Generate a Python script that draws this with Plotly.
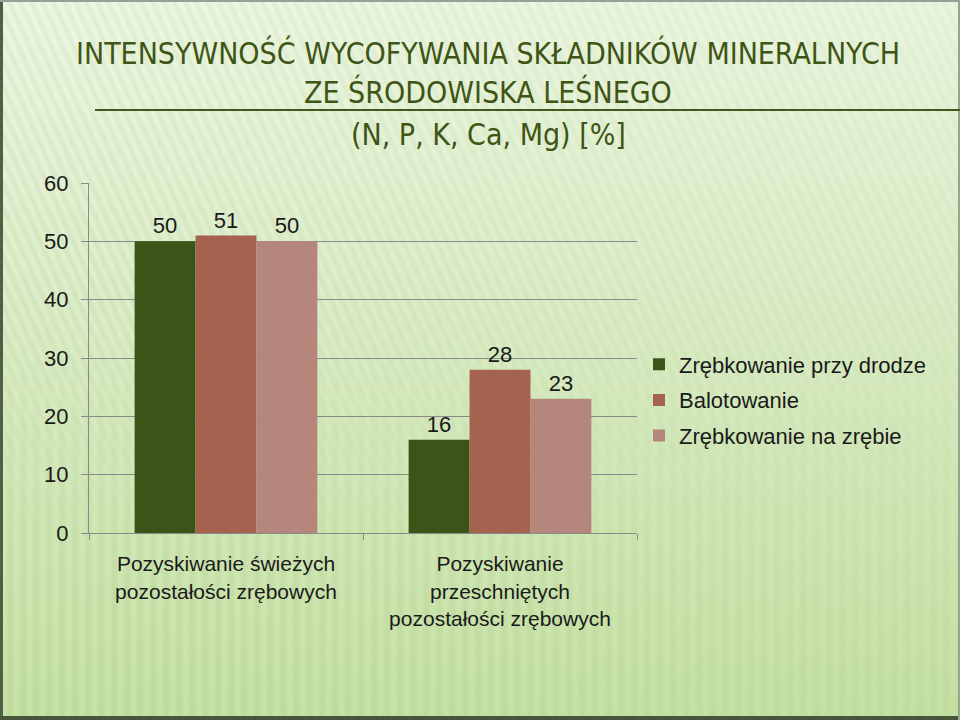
import base64, zlib, struct
import numpy as np
import plotly.graph_objects as go

categories = ["Pozyskiwanie świeżych<br>pozostałości zrębowych",
              "Pozyskiwanie<br>przeschniętych<br>pozostałości zrębowych"]
series_names = ["Zrębkowanie przy drodze", "Balotowanie", "Zrębkowanie na zrębie"]
series_values = [[50, 16], [51, 28], [50, 23]]
series_colors = ["#3B5518", "#A5624E", "#B5877C"]
y_ticks = [0, 10, 20, 30, 40, 50, 60]

W, H = 960, 720
L, R, T, B = 89, 323, 183, 187

# ---- background image (gradient + soft stripes) ----
yy, xx = np.mgrid[0:H, 0:W].astype(float)
t = yy / H
top = np.array([232, 243, 220], float)
bot = np.array([194, 222, 160], float)
base = top[None, None, :] * (1 - t[..., None]) + bot[None, None, :] * t[..., None]
diag = np.sin(2 * np.pi * (xx - 0.45 * yy) / 11.0)
vert = np.sin(2 * np.pi * xx / 13.0)
w = np.clip((yy - 300) / 250, 0, 1)
stripe = diag * (1 - w) + vert * w
amp = 5 * (1 - 0.5 * (xx / W))
img = base + (stripe * amp)[..., None]
img = np.clip(img, 0, 255).astype(np.uint8)
img[:, 0:3] = [80, 95, 70]
img[H - 4:H, :] = [70, 85, 60]
img[0:2, :] = [150, 160, 150]
img[:, W - 2:W] = [150, 165, 140]

def to_png(a):
    h, w_, _ = a.shape
    raw = b"".join(b"\x00" + a[i].tobytes() for i in range(h))
    def chunk(tag, data):
        c = struct.pack(">I", len(data)) + tag + data
        return c + struct.pack(">I", zlib.crc32(tag + data) & 0xffffffff)
    return (b"\x89PNG\r\n\x1a\n" + chunk(b"IHDR", struct.pack(">IIBBBBB", w_, h, 8, 2, 0, 0, 0))
            + chunk(b"IDAT", zlib.compress(raw, 9)) + chunk(b"IEND", b""))

src = "data:image/png;base64," + base64.b64encode(to_png(img)).decode()

pw, ph = W - L - R, H - T - B
FONT = "Liberation Sans, Arial"

fig = go.Figure()
for name, vals, col in zip(series_names, series_values, series_colors):
    fig.add_trace(go.Bar(
        x=categories, y=vals, name=name, marker=dict(color=col, line=dict(width=0)),
        text=[str(v) for v in vals], textposition="outside", cliponaxis=False,
        textfont=dict(family=FONT, size=22, color="#1a1a1a"),
        legendgroup=name,
    ))

fig.update_layout(
    width=W, height=H,
    margin=dict(l=L, r=R, t=T, b=B),
    paper_bgcolor="rgba(0,0,0,0)", plot_bgcolor="rgba(0,0,0,0)",
    barmode="group", bargap=0.333, bargroupgap=0,
    showlegend=True,
    legend=dict(x=(639 - L) / pw, y=(533 - 400) / ph, xanchor="left", yanchor="middle",
                font=dict(family=FONT, size=22, color="#1a1a1a"),
                bgcolor="rgba(0,0,0,0)", tracegroupgap=4, itemclick=False),
    font=dict(family=FONT, size=21, color="#1a1a1a"),
    images=[dict(source=src, xref="paper", yref="paper", x=-L / pw, y=1 + T / ph,
                 sizex=W / pw, sizey=H / ph, xanchor="left", yanchor="top",
                 sizing="stretch", layer="below")],
)
fig.update_yaxes(range=[0, 60], tickvals=y_ticks, showgrid=True, gridcolor="#8a8a8a", gridwidth=1,
                 showline=True, linecolor="#8a8a8a", linewidth=1, ticks="outside", ticklen=7,
                 tickcolor="#8a8a8a", zeroline=False, ticklabelstandoff=8,
                 tickfont=dict(family=FONT, size=22, color="#1a1a1a"))
fig.update_xaxes(showline=True, linecolor="#8a8a8a", linewidth=1, ticks="outside", ticklen=6,
                 tickcolor="#8a8a8a", tickson="boundaries", ticklabelstandoff=12,
                 tickfont=dict(family=FONT, size=21, color="#1a1a1a"))

title_font = dict(family="Liberation Sans Narrow, DejaVu Sans Condensed, Roboto Condensed, Arial Narrow, sans-serif",
                  size=30, color="#3E5516")
titles = [("INTENSYWNOŚĆ WYCOFYWANIA SKŁADNIKÓW MINERALNYCH", 53),
          ("ZE ŚRODOWISKA LEŚNEGO", 92),
          ("(N, P, K, Ca, Mg) [%]", 135)]
for txt, yc in titles:
    fig.add_annotation(text=txt, xref="paper", yref="paper", x=(488 - L) / pw,
                       y=1 + (T - yc) / ph, xanchor="center", yanchor="middle",
                       showarrow=False, font=title_font)
fig.add_shape(type="line", xref="paper", yref="paper", x0=(95 - L) / pw, x1=(W - L) / pw,
              y0=1 + (T - 110) / ph, y1=1 + (T - 110) / ph, line=dict(color="#3F5A18", width=2))

fig.write_html("out.html")
